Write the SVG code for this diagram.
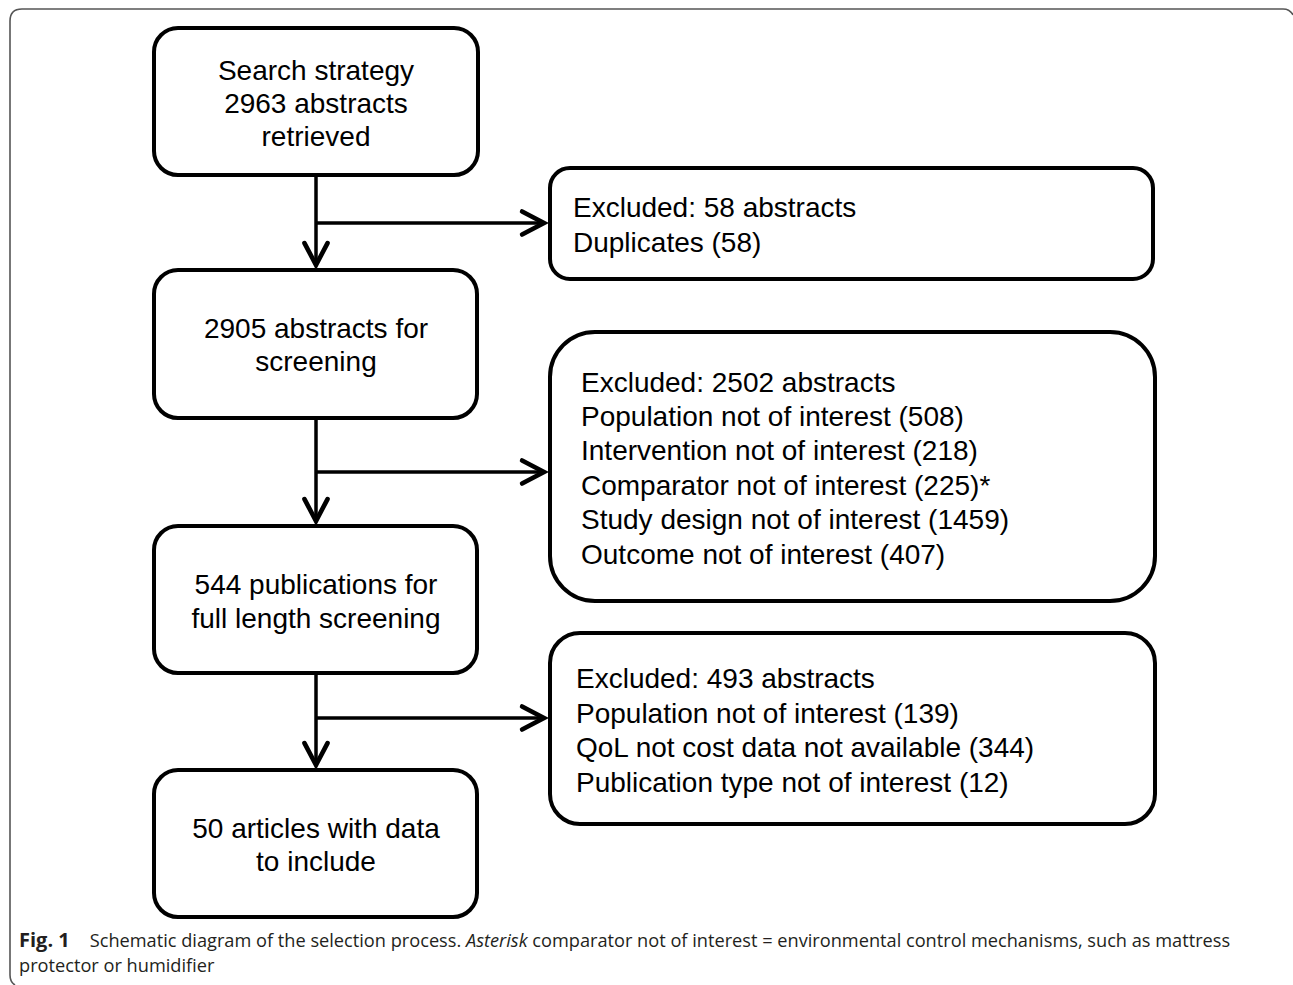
<svg xmlns="http://www.w3.org/2000/svg" width="1293" height="985" viewBox="0 0 1293 985">
<style>
.box{fill:#fff;stroke:#000;stroke-width:4}
.t{font-family:'Liberation Sans',Arimo,Arial,Helvetica,sans-serif;font-size:28px;fill:#000}
.c{text-anchor:middle}
.con{stroke:#000;stroke-width:3.5;fill:none}
.cap{font-family:'Open Sans','Noto Sans',sans-serif;font-size:18.2px;fill:#231f20}
</style>
<defs>
<marker id="arr" markerUnits="userSpaceOnUse" markerWidth="30" markerHeight="30" refX="0" refY="0" orient="auto" viewBox="-22 -13 26 26" overflow="visible">
<path d="M-19,-10 L0,0 L-19,10" fill="none" stroke="#000" stroke-width="4" stroke-linecap="round" stroke-linejoin="miter"/>
</marker>
</defs>
<rect width="1293" height="985" fill="#fff"/>
<path d="M15,985 Q10,982 10,975 L10,21 Q10,9 22,9 L1283,9 Q1290,9 1293,15" fill="none" stroke="#555" stroke-width="1.6"/>

<g id="connectors">
<path class="con" d="M316,175 L316,265" marker-end="url(#arr)"/>
<path class="con" d="M316,223 L544,223" marker-end="url(#arr)"/>
<path class="con" d="M316,418 L316,521" marker-end="url(#arr)"/>
<path class="con" d="M316,472 L544,472" marker-end="url(#arr)"/>
<path class="con" d="M316,673 L316,765" marker-end="url(#arr)"/>
<path class="con" d="M316,718 L544,718" marker-end="url(#arr)"/>
</g>

<g id="n1">
<rect class="box" x="154" y="28" width="324" height="147" rx="24"/>
<text class="t c" x="316" y="80">Search strategy</text>
<text class="t c" x="316" y="113">2963 abstracts</text>
<text class="t c" x="316" y="146">retrieved</text>
</g>
<g id="n2">
<rect class="box" x="154" y="270" width="323" height="148" rx="24"/>
<text class="t c" x="316" y="338">2905 abstracts for</text>
<text class="t c" x="316" y="371">screening</text>
</g>
<g id="n3">
<rect class="box" x="154" y="526" width="323" height="147" rx="24"/>
<text class="t c" x="316" y="594">544 publications for</text>
<text class="t c" x="316" y="628">full length screening</text>
</g>
<g id="n4">
<rect class="box" x="154" y="770" width="323" height="147" rx="24"/>
<text class="t c" x="316" y="838">50 articles with data</text>
<text class="t c" x="316" y="871">to include</text>
</g>

<g id="e1">
<rect class="box" x="550" y="168" width="603" height="111" rx="20"/>
<text class="t" x="573" y="217">Excluded: 58 abstracts</text>
<text class="t" x="573" y="252">Duplicates (58)</text>
</g>
<g id="e2">
<rect class="box" x="550" y="332" width="605" height="269" rx="45"/>
<text class="t" x="581" y="392">Excluded: 2502 abstracts</text>
<text class="t" x="581" y="426">Population not of interest (508)</text>
<text class="t" x="581" y="460">Intervention not of interest (218)</text>
<text class="t" x="581" y="495">Comparator not of interest (225)*</text>
<text class="t" x="581" y="529">Study design not of interest (1459)</text>
<text class="t" x="581" y="564">Outcome not of interest (407)</text>
</g>
<g id="e3">
<rect class="box" x="550" y="633" width="605" height="191" rx="30"/>
<text class="t" x="576" y="688">Excluded: 493 abstracts</text>
<text class="t" x="576" y="723">Population not of interest (139)</text>
<text class="t" x="576" y="757">QoL not cost data not available (344)</text>
<text class="t" x="576" y="792">Publication type not of interest (12)</text>
</g>

<g id="caption">
<text class="cap" x="19" y="947"><tspan font-weight="bold" font-size="20">Fig. 1</tspan><tspan dx="20">Schematic diagram of the selection process. </tspan><tspan font-style="italic">Asterisk</tspan><tspan> comparator not of interest = environmental control mechanisms, such as mattress</tspan></text>
<text class="cap" x="19" y="972">protector or humidifier</text>
</g>
</svg>
